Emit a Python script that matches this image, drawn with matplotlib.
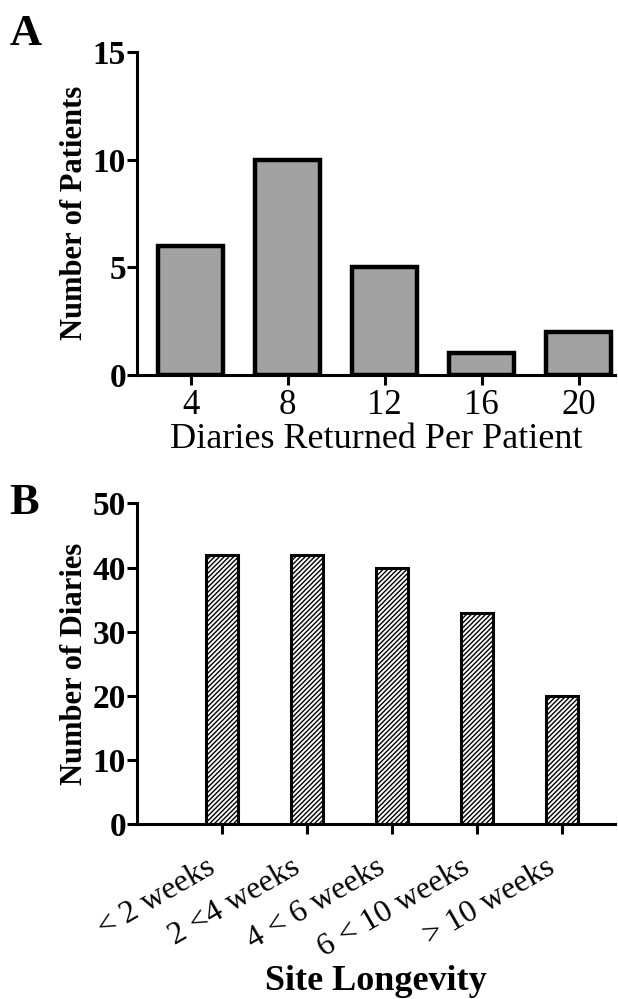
import numpy as np
import matplotlib.pyplot as plt
import matplotlib.transforms as mtransforms

# panel A data
diaries = [4, 8, 12, 16, 20]
patients = [6, 10, 5, 1, 2]

# panel B data
longevity = ["< 2 weeks", "2 <4 weeks", "4 < 6 weeks", "6 < 10 weeks", "> 10 weeks"]
n_diaries = [42, 42, 40, 33, 20]

plt.rcParams['font.family'] = 'Liberation Serif'
plt.rcParams['hatch.linewidth'] = 1.0

fig = plt.figure(figsize=(6.18, 9.99), dpi=100)

#Panel A
ax1 = fig.add_axes([0.222, 0.625, 0.773, 0.323])
ax1.bar(diaries, patients, width=2.7, color='#a2a2a2', edgecolor='black', linewidth=3.2)
ax1.set_xlim(1.8, 21.5)
ax1.set_ylim(0, 15)
ax1.set_yticks([0, 5, 10, 15])
ax1.set_xticks(diaries)
ax1.set_ylabel("Number of Patients", fontsize=22, fontweight='bold')
ax1.set_xlabel("Diaries Returned Per Patient", fontsize=26)
ax1.yaxis.set_label_coords(-0.1, 0.5)
ax1.xaxis.set_label_coords(0.5, -0.15)

#Panel B
ax2 = fig.add_axes([0.222, 0.175, 0.773, 0.321])
x = np.arange(len(longevity))
ax2.bar(x, n_diaries, width=0.37, color='white', edgecolor='black', linewidth=2.2, hatch='///////')
ax2.set_xlim(-1.0, 4.62)
ax2.set_ylim(0, 50)
ax2.set_yticks([0, 10, 20, 30, 40, 50])
ax2.set_xticks(x)
ax2.set_xticklabels([])
ax2.set_ylabel("Number of Diaries", fontsize=22, fontweight='bold')
ax2.set_xlabel("Site Longevity", fontsize=26, fontweight='bold')
ax2.yaxis.set_label_coords(-0.1, 0.5)
ax2.xaxis.set_label_coords(0.5, -0.44)

# rotated category labels, a little left of their ticks
trans = mtransforms.blended_transform_factory(ax2.transData, ax2.transAxes)
trans = trans + mtransforms.ScaledTranslation(-0.17, -0.29, fig.dpi_scale_trans)
for i, lab in enumerate(longevity):
    ax2.text(x[i], 0, lab, transform=trans, rotation=30, ha='right', va='top',
             rotation_mode='anchor', fontsize=23)

for ax in [ax1, ax2]:
    ax.spines['top'].set_visible(False)
    ax.spines['right'].set_visible(False)
    ax.spines['left'].set_linewidth(2.2)
    ax.spines['bottom'].set_linewidth(2.2)
    ax.tick_params(axis='both', width=2.2, length=7, direction='out')
    for lab in ax.get_yticklabels():
        lab.set_fontsize(24)
        lab.set_fontweight('bold')

for lab in ax1.get_xticklabels():
    lab.set_fontsize(25)
ax1.tick_params(axis='y', pad=1)
ax2.tick_params(axis='y', pad=1)

fig.text(0.015, 0.955, "A", fontsize=32, fontweight='bold')
fig.text(0.015, 0.485, "B", fontsize=32, fontweight='bold')

plt.savefig("out.png", dpi=100)
